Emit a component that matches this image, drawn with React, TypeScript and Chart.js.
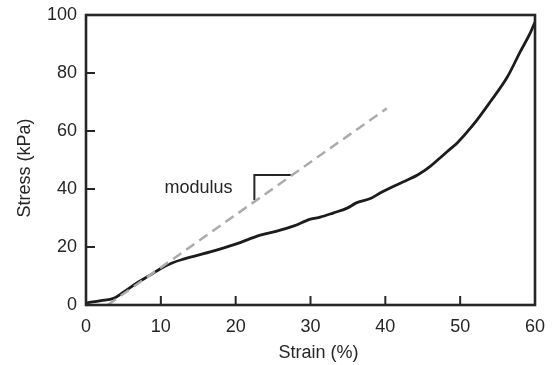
import React, { useEffect, useRef } from "react";
import { Chart, registerables } from "chart.js";

Chart.register(...registerables);

const strainValues = [0, 2, 3.7, 5, 6.8, 8.5, 10, 11.5, 13, 15, 16.6, 20, 23.3, 25.5, 27.7, 30, 31.3, 33, 34.9, 36.2, 38, 39.3, 42, 44.3, 46, 47.3, 48.4, 49.6, 51.7, 54, 56.3, 58, 59.4, 60];
const stressValues = [0.7, 1.5, 2.3, 4.4, 7.6, 10.2, 12.6, 14.5, 15.8, 17.2, 18.3, 21, 24.1, 25.5, 27.2, 29.6, 30.3, 31.7, 33.4, 35.3, 36.7, 38.6, 42, 44.8, 47.8, 50.7, 53.2, 55.9, 62, 70, 78.6, 87.2, 94, 97.6];
const modulusX = [2.9, 40.2];
const modulusY = [0, 67.8];
const bracketX = [22.5, 22.5, 27.6];
const bracketY = [36.2, 44.8, 44.8];
const xTicks = [0, 10, 20, 30, 40, 50, 60];
const yTicks = [0, 20, 40, 60, 80, 100];
const xTitle = "Strain (%)";
const yTitle = "Stress (kPa)";
const annotationText = "modulus";

const FONT = "'Liberation Sans', Arial, Helvetica, sans-serif";
const INK = "#262626";

const framePlugin = {
  id: "frameAndExtras",
  afterDraw(chart: any) {
    const { ctx, chartArea, scales } = chart;
    const xs = scales.x;
    const ys = scales.y;
    ctx.save();
    ctx.strokeStyle = INK;
    ctx.lineWidth = 2;
    ctx.beginPath();
    xs.ticks.forEach((t: any) => {
      if (t.value <= xs.min || t.value >= xs.max) return;
      const px = xs.getPixelForValue(t.value);
      ctx.moveTo(px, chartArea.bottom);
      ctx.lineTo(px, chartArea.bottom - 9);
    });
    ys.ticks.forEach((t: any) => {
      if (t.value <= ys.min || t.value >= ys.max) return;
      const py = ys.getPixelForValue(t.value);
      ctx.moveTo(chartArea.left, py);
      ctx.lineTo(chartArea.left + 9, py);
    });
    ctx.stroke();
    ctx.lineWidth = 2.6;
    ctx.strokeRect(chartArea.left, chartArea.top, chartArea.right - chartArea.left, chartArea.bottom - chartArea.top);
    ctx.fillStyle = INK;
    ctx.font = `18px ${FONT}`;
    ctx.textAlign = "center";
    ctx.textBaseline = "middle";
    ctx.fillText(xTitle, (chartArea.left + chartArea.right) / 2 + 8, 353);
    ctx.save();
    ctx.translate(25, (chartArea.top + chartArea.bottom) / 2 + 8);
    ctx.rotate(-Math.PI / 2);
    ctx.fillText(yTitle, 0, 0);
    ctx.restore();
    ctx.textAlign = "left";
    const ty = ys.getPixelForValue(40.5);
    ctx.fillText(annotationText, xs.getPixelForValue(10.5), ty);
    ctx.restore();
  },
};

export default function App() {
  const ref = useRef<HTMLCanvasElement | null>(null);
  useEffect(() => {
    if (!ref.current) return;
    const curve = strainValues.map((x, i) => ({ x, y: stressValues[i] }));
    const modulus = modulusX.map((x, i) => ({ x, y: modulusY[i] }));
    const bracket = bracketX.map((x, i) => ({ x, y: bracketY[i] }));
    const chart = new Chart(ref.current, {
      type: "line",
      data: {
        datasets: [
          {
            data: modulus,
            borderColor: "#ababab",
            borderWidth: 2.5,
            borderDash: [10, 6],
            pointRadius: 0,
            tension: 0,
          },
          {
            data: bracket,
            borderColor: INK,
            borderWidth: 2,
            pointRadius: 0,
            tension: 0,
          },
          {
            data: curve,
            borderColor: "#1c1c1c",
            borderWidth: 2.8,
            pointRadius: 0,
            cubicInterpolationMode: "monotone",
          },
        ],
      },
      options: {
        animation: false,
        responsive: false,
        events: [],
        layout: { padding: { top: 15, right: 17, left: 0, bottom: 0 } },
        plugins: { legend: { display: false }, tooltip: { enabled: false } },
        scales: {
          x: {
            type: "linear",
            min: 0,
            max: 60,
            afterBuildTicks: (s: any) => { s.ticks = xTicks.map((v) => ({ value: v })); },
            afterFit: (s: any) => { s.height = 60; s.paddingLeft = 0; s.paddingRight = 0; },
            grid: { display: false, drawTicks: false },
            border: { display: false },
            ticks: { color: INK, font: { family: FONT, size: 18 }, padding: 11, maxRotation: 0 },
          },
          y: {
            type: "linear",
            min: 0,
            max: 100,
            afterBuildTicks: (s: any) => { s.ticks = yTicks.map((v) => ({ value: v })); },
            afterFit: (s: any) => { s.width = 86; s.paddingTop = 0; s.paddingBottom = 0; },
            grid: { display: false, drawTicks: false },
            border: { display: false },
            ticks: { color: INK, font: { family: FONT, size: 18 }, padding: 9 },
          },
        },
      },
      plugins: [framePlugin],
    });
    return () => chart.destroy();
  }, []);
  return (
    <div style={{ position: "fixed", left: 0, top: 0, width: 552, height: 365, background: "#fff" }}>
      <canvas ref={ref} width={552} height={365} style={{ width: 552, height: 365, display: "block" }} />
    </div>
  );
}
